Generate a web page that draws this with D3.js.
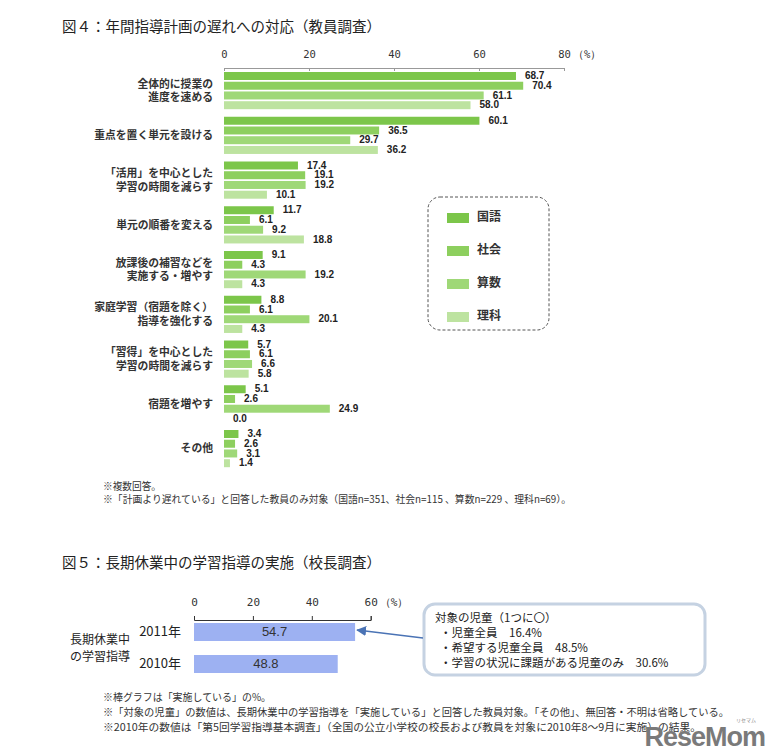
<!DOCTYPE html>
<html><head><meta charset="utf-8">
<script src="https://cdn.jsdelivr.net/npm/d3@7"></script>
<style>
body{margin:0;background:#fff;}
svg{display:block;font-family:"Noto Sans CJK JP","Noto Sans",sans-serif;}
</style></head><body>
<svg id="c" width="779" height="755"></svg>
<script>
// ---- Figure 4 data ----
const categories = [
  "全体的に授業の\n進度を速める",
  "重点を置く単元を設ける",
  "「活用」を中心とした\n学習の時間を減らす",
  "単元の順番を変える",
  "放課後の補習などを\n実施する・増やす",
  "家庭学習（宿題を除く）\n指導を強化する",
  "「習得」を中心とした\n学習の時間を減らす",
  "宿題を増やす",
  "その他"
];
const subjects = ["国語", "社会", "算数", "理科"];
const kokugo = [68.7, 60.1, 17.4, 11.7, 9.1, 8.8, 5.7, 5.1, 3.4];
const shakai = [70.4, 36.5, 19.1, 6.1, 4.3, 6.1, 6.1, 2.6, 2.6];
const sansu  = [61.1, 29.7, 19.2, 9.2, 19.2, 20.1, 6.6, 24.9, 3.1];
const rika   = [58.0, 36.2, 10.1, 18.8, 4.3, 4.3, 5.8, 0.0, 1.4];
const fig4Ticks = [0, 20, 40, 60, 80];

// ---- Figure 5 data ----
const years = ["2011年", "2010年"];
const implemented = [54.7, 48.8];
const fig5Ticks = [0, 20, 40, 60];
const targetLines = ["対象の児童（1つに〇）", "・児童全員　16.4%", "・希望する児童全員　48.5%", "・学習の状況に課題がある児童のみ　30.6%"];

const svg = d3.select("#c");
const colors = d3.scaleOrdinal().domain(subjects).range(["#7cc64a", "#8dcf5e", "#9fd877", "#bde3a0"]);
const seriesVals = [kokugo, shakai, sansu, rika];

// Title 4
svg.append("text").attr("x", 62).attr("y", 32).attr("font-size", 14.5).attr("fill", "#222")
  .text("図４：年間指導計画の遅れへの対応（教員調査）");

const x4 = d3.scaleLinear().domain([0, 80]).range([224, 564]);
const y4 = d3.scaleBand().domain(d3.range(categories.length)).range([72, 72 + 44.75 * 9]).paddingInner(0).paddingOuter(0);
const ySub = d3.scaleBand().domain(subjects).range([0, 37.2]).paddingInner(0.18).paddingOuter(0);

const ax4 = svg.append("g").attr("transform", "translate(0,68)")
  .call(d3.axisTop(x4).tickValues(fig4Ticks).tickSize(-3).tickPadding(10).tickSizeOuter(0));
ax4.select(".domain").attr("stroke", "#999");
ax4.selectAll(".tick line").attr("stroke", "#999");
ax4.selectAll(".tick text").attr("font-size", 10.5).attr("fill", "#333").attr("font-family", "DejaVu Sans Mono, monospace");
svg.append("text").attr("x", x4(80) + 9).attr("y", 58).attr("font-size", 10.5).attr("fill", "#333")
  .attr("font-family", "DejaVu Sans Mono, monospace").text("（%）");

const groups = svg.append("g").selectAll("g").data(categories).join("g")
  .attr("transform", (d, i) => `translate(0,${y4(i)})`);

groups.each(function(cat, i) {
  const g = d3.select(this);
  subjects.forEach((s, j) => {
    const v = seriesVals[j][i];
    g.append("rect").attr("x", x4(0)).attr("y", ySub(s)).attr("width", x4(v) - x4(0))
      .attr("height", ySub.bandwidth()).attr("fill", colors(s));
    g.append("text").attr("x", x4(v) + 9).attr("y", ySub(s) + ySub.bandwidth() / 2 + 0.5)
      .attr("dominant-baseline", "middle").attr("font-size", 10).attr("font-weight", "bold")
      .attr("font-family", "Liberation Sans, Arial, sans-serif").attr("fill", "#222").text(v.toFixed(1));
  });
  const lines = cat.split("\n");
  const cy = 19.5;
  const t = g.append("text").attr("text-anchor", "end").attr("font-size", 10.8).attr("font-weight", "bold").attr("fill", "#333");
  lines.forEach((ln, k) => {
    t.append("tspan").attr("x", 213).attr("y", cy + (k - (lines.length - 1) / 2) * 13.5)
      .attr("dominant-baseline", "middle").text(ln);
  });
});

// Legend
svg.append("rect").attr("x", 428).attr("y", 197).attr("width", 121).attr("height", 133).attr("rx", 12)
  .attr("fill", "none").attr("stroke", "#555").attr("stroke-dasharray", "3,2").attr("stroke-width", 1);
const lg = svg.append("g").selectAll("g").data(subjects).join("g")
  .attr("transform", (d, i) => `translate(447,${213 + i * 33})`);
lg.append("rect").attr("width", 22).attr("height", 10).attr("fill", d => colors(d));
lg.append("text").attr("x", 30).attr("y", 5).attr("dominant-baseline", "middle").attr("font-size", 12)
  .attr("font-weight", "bold").attr("fill", "#333").text(d => d);

// Notes 4
const notes4 = ["※複数回答。", "※「計画より遅れている」と回答した教員のみ対象（国語n=351、社会n=115 、算数n=229 、理科n=69）。"];
const notes4Len = [58, 468];
svg.append("g").selectAll("text").data(notes4).join("text")
  .attr("x", 103).attr("y", (d, i) => 490 + i * 13).attr("font-size", 10).attr("fill", "#333")
  .attr("textLength", (d, i) => notes4Len[i]).attr("lengthAdjust", "spacingAndGlyphs").text(d => d);

// Title 5
svg.append("text").attr("x", 62).attr("y", 568).attr("font-size", 14.5).attr("fill", "#222")
  .text("図５：長期休業中の学習指導の実施（校長調査）");

const x5 = d3.scaleLinear().domain([0, 60]).range([194, 370.7]);
const y5 = d3.scaleBand().domain(years).range([623, 673]).paddingInner(0.4375).paddingOuter(0);
const ax5 = svg.append("g").attr("transform", "translate(0,620)")
  .call(d3.axisTop(x5).tickValues(fig5Ticks).tickSize(4).tickPadding(10).tickSizeOuter(4));
ax5.select(".domain").attr("stroke", "#333");
ax5.selectAll(".tick line").attr("stroke", "#333");
ax5.selectAll(".tick text").attr("font-size", 11).attr("fill", "#333").attr("font-family", "DejaVu Sans Mono, monospace");
svg.append("text").attr("x", x5(60) + 9).attr("y", 606).attr("font-size", 11).attr("fill", "#333")
  .attr("font-family", "DejaVu Sans Mono, monospace").text("（%）");

svg.append("g").selectAll("rect").data(years).join("rect")
  .attr("x", x5(0)).attr("y", d => y5(d)).attr("width", (d, i) => x5(implemented[i]) - x5(0))
  .attr("height", y5.bandwidth()).attr("fill", "#9db1f2");
svg.append("g").selectAll("text").data(years).join("text")
  .attr("x", (d, i) => (x5(0) + x5(implemented[i])) / 2).attr("y", d => y5(d) + y5.bandwidth() / 2 + 1)
  .attr("text-anchor", "middle").attr("dominant-baseline", "middle").attr("font-size", 13)
  .attr("font-family", "Liberation Sans, Arial, sans-serif").attr("fill", "#333")
  .text((d, i) => implemented[i].toFixed(1));
svg.append("g").selectAll("text").data(years).join("text")
  .attr("x", 181).attr("y", d => y5(d) + y5.bandwidth() / 2)
  .attr("text-anchor", "end").attr("dominant-baseline", "middle").attr("font-size", 13).attr("fill", "#222")
  .text(d => d);
const gl = svg.append("text").attr("font-size", 12).attr("fill", "#222");
["長期休業中", "の学習指導"].forEach((s, k) => gl.append("tspan").attr("x", 70).attr("y", 641 + k * 17).attr("dominant-baseline", "middle").text(s));

// Callout
svg.append("rect").attr("x", 424).attr("y", 604).attr("width", 281).attr("height", 71).attr("rx", 11)
  .attr("fill", "#fff").attr("stroke", "#c5d2e2").attr("stroke-width", 3);
svg.append("g").selectAll("text").data(targetLines).join("text")
  .attr("x", (d, i) => i === 0 ? 435 : 440).attr("y", (d, i) => 619 + i * 15)
  .attr("dominant-baseline", "middle").attr("font-size", 11.5).attr("fill", "#222").text(d => d);

const defs = svg.append("defs");
defs.append("marker").attr("id", "ah").attr("viewBox", "0 0 10 10").attr("refX", 9).attr("refY", 5)
  .attr("markerWidth", 10).attr("markerHeight", 10).attr("markerUnits", "userSpaceOnUse").attr("orient", "auto")
  .append("path").attr("d", "M0,0 L10,5 L0,10 Z").attr("fill", "#4a73b5");
svg.append("line").attr("x1", 423).attr("y1", 638).attr("x2", x5(implemented[0]) + 2).attr("y2", 630)
  .attr("stroke", "#4a73b5").attr("stroke-width", 1.3).attr("marker-end", "url(#ah)");

// Notes 5
const notes5 = [
  "※棒グラフは「実施している」の%。",
  "※「対象の児童」の数値は、長期休業中の学習指導を「実施している」と回答した教員対象。「その他」、無回答・不明は省略している。",
  "※2010年の数値は「第5回学習指導基本調査」（全国の公立小学校の校長および教員を対象に2010年8～9月に実施）の結果。"
];
const notes5Len = [168, 626, 598];
svg.append("g").selectAll("text").data(notes5).join("text")
  .attr("x", 103).attr("y", (d, i) => 701 + i * 15).attr("font-size", 10.5).attr("fill", "#333")
  .attr("textLength", (d, i) => notes5Len[i]).attr("lengthAdjust", "spacingAndGlyphs").text(d => d);

// Watermark
svg.append("text").attr("x", 765).attr("y", 746).attr("text-anchor", "end").attr("font-size", 27)
  .attr("font-weight", "bold").attr("font-family", "Liberation Sans Narrow, Arial Narrow, sans-serif")
  .attr("fill", "#7a7a7a").attr("letter-spacing", -1).text("ReseMom");
svg.append("text").attr("x", 746).attr("y", 722).attr("text-anchor", "middle").attr("font-size", 5)
  .attr("fill", "#888").text("リセマム");
</script></body></html>
